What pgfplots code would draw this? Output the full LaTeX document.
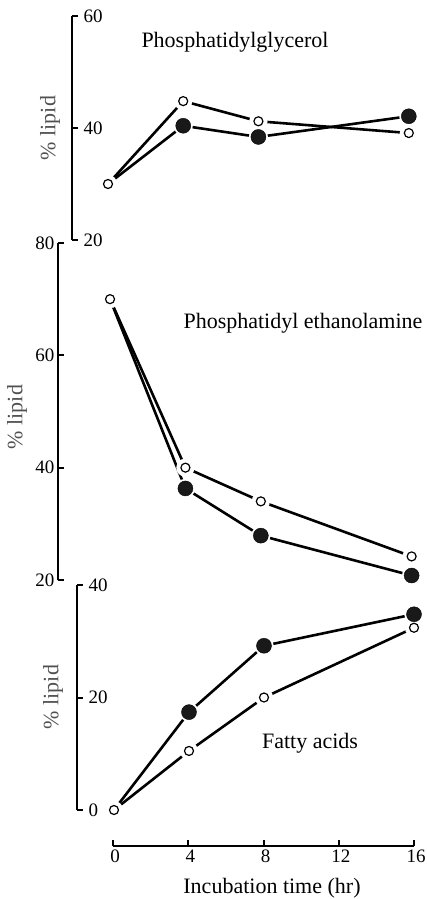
\documentclass[border=0pt]{standalone}
\usepackage{fontspec}
\setmainfont{Liberation Serif}
\usepackage{pgfplots}
\pgfplotsset{compat=1.18}
\usepackage{pgfplotstable}

\pgfplotstableread{
t open filled
0 30 30
4 44.8 40.4
8 41.2 38.4
16 39.1 42.1
}\pgdata
\pgfplotstableread{
t open filled
0 70 70
4 40 36.3
8 34 27.9
16 24.2 20.8
}\pedata
\pgfplotstableread{
t open filled
0 0 0
4 10.5 17.4
8 20 29.2
16 32.4 34.8
}\fadata

\definecolor{labgray}{HTML}{505050}
\newcommand{\tickfont}{\fontsize{19bp}{22bp}\selectfont}

\pgfplotsset{
  panel/.style={
    axis y line=left, axis x line=none,
    axis line style={-, line width=2.2bp, black},
    enlargelimits=false, clip=false,
    tick align=inside, major tick length=6bp,
    every tick/.style={line width=2bp, black},
    xtick=\empty,
    /pgf/number format/assume math mode=true,
    every tick label/.append style={font=\tickfont},
    yticklabel style={font=\tickfont},
    anchor=south west,
  },
  rightlabels/.style={yticklabel style={anchor=west, xshift=8bp}},
  dline/.style={black, line width=2.6bp, no markers},
  halo/.style={only marks, mark=*, mark size=#1, mark options={draw=white, fill=white, line width=0.1bp}},
  openm/.style={only marks, mark=*, mark size=4.5bp, mark options={fill=white, draw=black, line width=1.2bp}},
  fillm/.style={only marks, mark=*, mark size=7.5bp, mark options={fill=black!90, draw=black}},
}

\begin{document}
\begin{tikzpicture}
\path[use as bounding box] (0,0) rectangle (427bp,-899bp);

% Panel 1: Phosphatidylglycerol
\begin{axis}[panel, rightlabels, at={(72bp,-240bp)},
  x=18.8bp, y=5.6bp, xmin=-1.915, xmax=16.5, ymin=20, ymax=60, ytick={20,40,60}]
  \addplot[dline] table[x=t,y=open] {\pgdata};
  \addplot[dline] table[x=t,y=filled] {\pgdata};
  \addplot[halo=9bp] table[x=t,y=open] {\pgdata};
  \addplot[halo=9.5bp] table[x=t,y=filled,skip coords between index={0}{1}] {\pgdata};
  \addplot[fillm] table[x=t,y=filled,skip coords between index={0}{1}] {\pgdata};
  \addplot[openm] table[x=t,y=open] {\pgdata};
\end{axis}

% Panel 2: Phosphatidyl ethanolamine
\begin{axis}[panel, at={(58bp,-580bp)},
  x=18.85bp, y=5.617bp, xmin=-2.76, xmax=16.5, ymin=20, ymax=80, ytick={20,40,60,80}]
  \addplot[dline] table[x=t,y=open] {\pedata};
  \addplot[dline] table[x=t,y=filled] {\pedata};
  \addplot[halo=9bp] table[x=t,y=open] {\pedata};
  \addplot[halo=9.5bp] table[x=t,y=filled,skip coords between index={0}{1}] {\pedata};
  \addplot[fillm] table[x=t,y=filled,skip coords between index={0}{1}] {\pedata};
  \addplot[openm] table[x=t,y=open] {\pedata};
\end{axis}

% Panel 3: Fatty acids
\begin{axis}[panel, rightlabels, at={(77bp,-810bp)},
  x=18.75bp, y=5.625bp, xmin=-1.973, xmax=16.5, ymin=0, ymax=40, ytick={0,20,40}]
  \addplot[dline] table[x=t,y=open] {\fadata};
  \addplot[dline] table[x=t,y=filled] {\fadata};
  \addplot[halo=9bp] table[x=t,y=open] {\fadata};
  \addplot[halo=9.5bp] table[x=t,y=filled,skip coords between index={0}{1}] {\fadata};
  \addplot[fillm] table[x=t,y=filled,skip coords between index={0}{1}] {\fadata};
  \addplot[openm] table[x=t,y=open] {\fadata};
\end{axis}

% Shared x axis
\begin{axis}[at={(113bp,-846bp)}, anchor=south west,
  axis x line=bottom, axis y line=none,
  axis line style={-, line width=2.2bp, black},
  enlargelimits=false, clip=false,
  x=18.8125bp, y=1bp, xmin=0, xmax=16, ymin=0, ymax=1,
  xtick={0,4,8,12,16}, ytick=\empty,
  tick align=inside, major tick length=6bp,
  every tick/.style={line width=2bp, black},
  /pgf/number format/assume math mode=true,
  every tick label/.append style={font=\tickfont},
  xticklabel style={font=\tickfont, xshift=2bp}]
  \addplot[draw=none] coordinates {(0,0)};
\end{axis}

\begin{scope}[every node/.style={font=\fontsize{22bp}{26bp}\selectfont, inner sep=0pt}]
\node at (235bp,-42bp) {Phosphatidylglycerol};
\node at (303bp,-323bp) {Phosphatidyl ethanolamine};
\node at (310bp,-743bp) {Fatty acids};
\node at (272bp,-888bp) {Incubation time (hr)};
\node[rotate=90, text=labgray] at (50bp,-128bp) {\% lipid};
\node[rotate=90, text=labgray] at (17bp,-417bp) {\% lipid};
\node[rotate=90, text=labgray] at (53bp,-697bp) {\% lipid};
\end{scope}
\end{tikzpicture}
\end{document}
